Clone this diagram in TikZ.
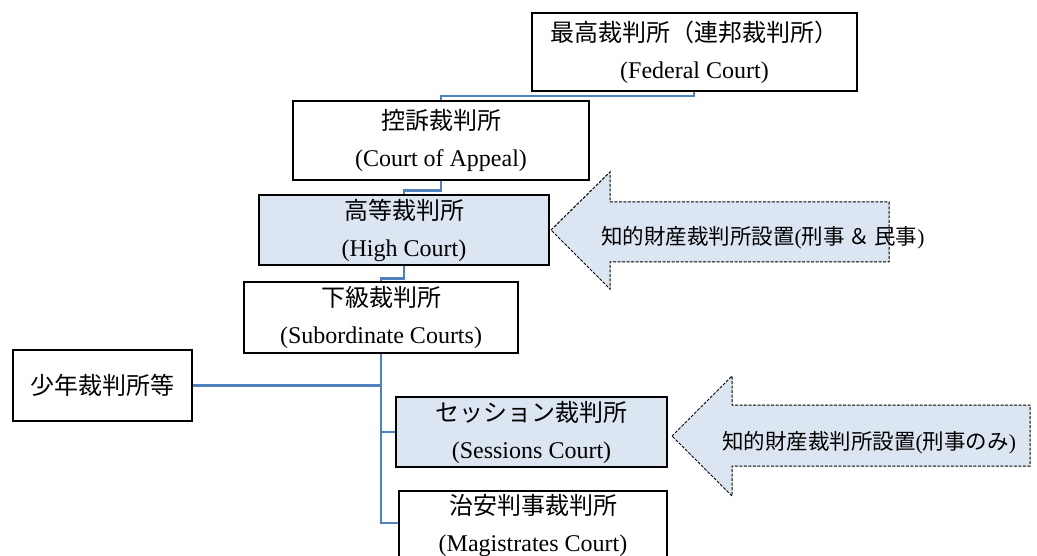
\documentclass[tikz,border=0pt]{standalone}
\usepackage{fontspec}
\setmainfont{Liberation Serif}
\newfontfamily\jp{Noto Sans CJK JP}
\definecolor{linkblue}{HTML}{4F81BD}
\definecolor{boxblue}{HTML}{DCE6F2}
\tikzset{
  court/.style={draw=black, line width=2.9pt, fill=white, align=center,
    font=\fontsize{24}{37}\selectfont, inner sep=0pt},
  courtblue/.style={court, fill=boxblue},
  link/.style={draw=linkblue, line width=2.8pt},
  bigarrow/.style={draw=black, line width=1pt, dash pattern=on 3pt off 1.5pt, fill=boxblue},
  arrowtext/.style={font=\fontsize{21.5}{24}\selectfont, anchor=west, inner sep=0pt}
}
\begin{document}
\begin{tikzpicture}[x=1pt,y=-1pt]
\useasboundingbox (0,0) rectangle (1037,556);
\clip (0,0) rectangle (1037,556);
% arrows
\draw[bigarrow] (551,230) -- (610,172) -- (610,202) -- (889,202) -- (889,262) -- (610,262) -- (610,289) -- cycle;
\draw[bigarrow] (672,436) -- (732,376) -- (732,405) -- (1030,405) -- (1030,466) -- (732,466) -- (732,496) -- cycle;
\node[arrowtext] (t1) at (601,238) {{\jp 知的財産裁判所設置}({\jp 刑事\hspace{4pt}＆\hspace{4pt}民事})};
\node[arrowtext] (t2) at (722,443) {{\jp 知的財産裁判所設置}({\jp 刑事のみ})};
% courts
\node[court, minimum width=325, minimum height=78] (fed) at (694.5,52) {{\jp 最高裁判所（連邦裁判所）}\\(Federal Court)};
\node[court, minimum width=296, minimum height=79] (coa) at (441,140.5) {{\jp 控訴裁判所}\\(Court of Appeal)};
\node[courtblue, minimum width=290, minimum height=70] (high) at (404,230) {{\jp 高等裁判所}\\(High Court)};
\node[court, minimum width=274, minimum height=71] (sub) at (381,317.5) {{\jp 下級裁判所}\\(Subordinate Courts)};
\node[court, minimum width=179, minimum height=71] (juv) at (102.5,385.5) {{\jp 少年裁判所等}};
\node[courtblue, minimum width=271, minimum height=70] (ses) at (531.5,432) {{\jp セッション裁判所}\\(Sessions Court)};
\node[court, minimum width=268, minimum height=68] (mag) at (533,525) {{\jp 治安判事裁判所}\\(Magistrates Court)};
% connectors
\coordinate (f1) at (694,96);
\draw[link] (f1 |- fed.south) -- (f1) -| (coa.north);
\draw[link] (coa.south) -- ++(0,9) -| (high.north);
\draw[link] (high.south) -- ++(0,12) -| (sub.north);
\draw[link] (sub.south) |- ([yshift=2pt]mag.west);
\draw[link] (ses.west) -- (ses.west -| sub.south);
\draw[link] (juv.east) -- (juv.east -| sub.south);
\end{tikzpicture}
\end{document}
